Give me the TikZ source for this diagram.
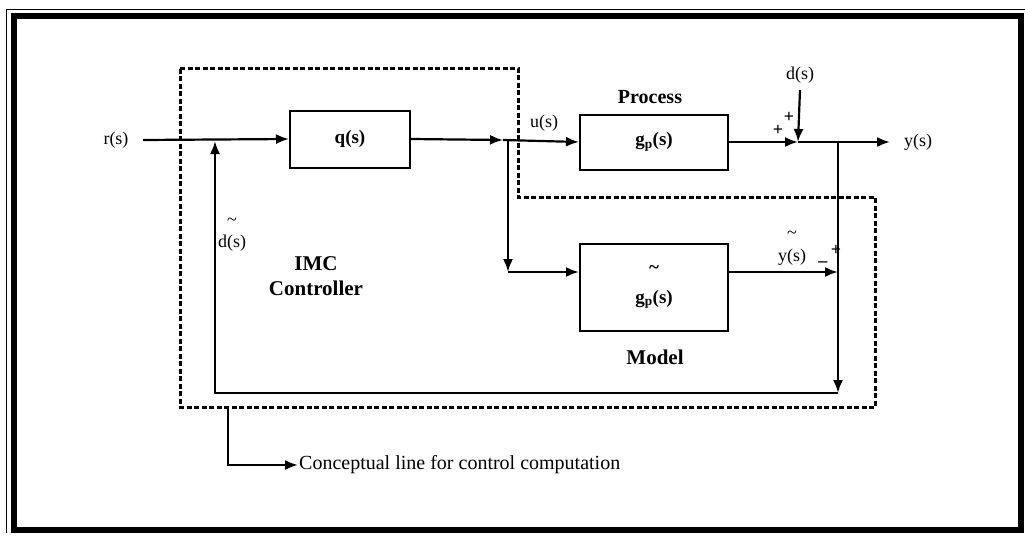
\documentclass[tikz,border=0pt]{standalone}
\usepackage{fontspec}
\setmainfont{Liberation Serif}
\usetikzlibrary{arrows.meta}
\begin{document}
\begin{tikzpicture}[x=1pt,y=-1pt,
  blk/.style={draw,line width=2pt,minimum width=148pt,anchor=center,inner sep=0pt},
  sig/.style={line width=2.2pt},
  arr/.style={sig,-{Latex[length=13pt,width=10pt]}},
  lbl/.style={font=\fontsize{18}{20}\selectfont,inner sep=1pt},
  blbl/.style={font=\fontsize{21}{25}\selectfont\bfseries,inner sep=1pt,align=center},
  dbox/.style={line width=3pt,dash pattern=on 5pt off 2.5pt}]
\useasboundingbox (0,0) rectangle (1025,536);
% outer frame
\draw[line width=0.8pt] (6,533) -- (6,9) -- (1025,9);
\draw[line width=6pt] (14,16) rectangle (1021,530);
% blocks
\node[blk,minimum width=120pt,minimum height=57pt] (q) at (350,139) {\fontsize{19}{21}\selectfont\bfseries q(s)};
\node[blk,minimum height=55pt] (gp) at (654,142) {\fontsize{19}{21}\selectfont\bfseries g$_{\mathbf p}$(s)};
\node[blk,minimum height=87pt,align=center] (gm) at (654,287) {\fontsize{19}{21}\selectfont\bfseries \~{}\\[16pt]\fontsize{19}{21}\selectfont\bfseries g$_{\mathbf p}$(s)};
% coordinates
\coordinate (rin) at (143,140);
\coordinate (s1) at (215,141);
\coordinate (jq) at (503,140);
\coordinate (br) at (508,140);
\coordinate (brd) at (508,272);
\coordinate (s2) at (798,142);
\coordinate (dtop) at (800,90);
\coordinate (tap) at (838,142);
\coordinate (yend) at (890,142);
\coordinate (s3) at (838,272);
\coordinate (fb) at (838,393);
\coordinate (fbl) at (215,393);
\coordinate (cl) at (228,407);
\coordinate (clc) at (228,465);
\coordinate (cle) at (298,465);
% labels
\node[lbl] (r) at (116,140) {r(s)};
\node[lbl] (u) at (544,123) {u(s)};
\node[lbl,anchor=west] (y) at (903,142) {y(s)};
\node[lbl] (d) at (800,75) {d(s)};
\node[blbl,font=\fontsize{20}{24}\selectfont\bfseries] (proc) at (650,97) {Process};
\node[lbl] (p1) at (789,117) {\textbf{+}};
\node[lbl] (p2) at (778,130) {\textbf{+}};
\node[lbl,align=center] (ym) at (792,248) {\~{}\\[3pt]y(s)};
\node[lbl] (m1) at (823,262) {\textbf{\_}};
\node[lbl] (p3) at (836,250) {\textbf{+}};
\node[lbl,align=center] (dm) at (232,235) {\~{}\\[2pt]d(s)};
\node[blbl] (imc) at (316,276) {IMC\\Controller};
\node[blbl] (model) at (655,357) {Model};
\node[lbl,anchor=west,font=\fontsize{20}{22}\selectfont] (concept) at (cle) {Conceptual line for control computation};
% signals
\draw[arr] (rin) -- (q.west);
\draw[arr] (q.east) -- (jq);
\draw[arr] (jq) -- (gp.west);
\draw[arr] (br) -- (brd);
\draw[arr] (brd) -- (brd -| gm.west);
\draw[arr] (gp.east) -- (s2);
\draw[arr] (dtop) -- (s2);
\draw[arr] (s2) -- (yend);
\draw[arr] (s3 -| gm.east) -- (s3);
\draw[sig] (tap) -- (s3);
\draw[arr] (s3) -- (fb);
\draw[arr] (fb) -- (fbl) -- (s1);
% IMC dashed boundary
\draw[dbox] (180,68) -- (518,68) -- (518,197) -- (875,197) -- (875,407) -- (180,407) -- cycle;
% conceptual line legend
\draw[arr] (cl) -- (clc) -- (concept.west);
\end{tikzpicture}
\end{document}
